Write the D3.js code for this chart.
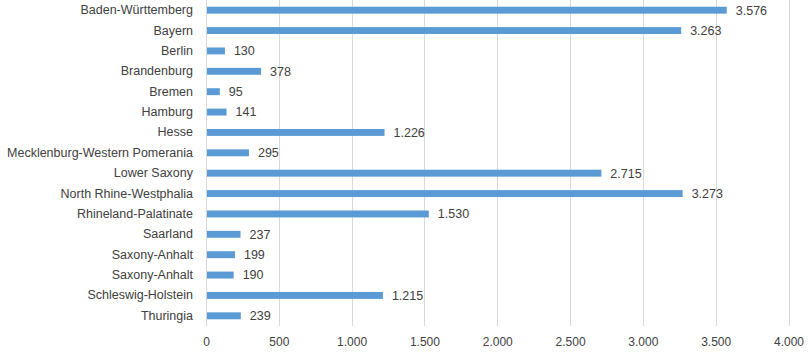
<!DOCTYPE html>
<meta charset="utf-8">
<style>
  body { margin: 0; background: #fff; }
  text { font-family: "Liberation Sans", Arial, sans-serif; fill: #404040; }
</style>
<body>
<script src="https://d3js.org/d3.v7.min.js"></script>
<script>
// categories and values
var states = ["Baden-Württemberg", "Bayern", "Berlin", "Brandenburg", "Bremen", "Hamburg",
  "Hesse", "Mecklenburg-Western Pomerania", "Lower Saxony", "North Rhine-Westphalia",
  "Rhineland-Palatinate", "Saarland", "Saxony-Anhalt", "Saxony-Anhalt", "Schleswig-Holstein", "Thuringia"];
var values = [3576, 3263, 130, 378, 95, 141, 1226, 295, 2715, 3273, 1530, 237, 199, 190, 1215, 239];
var xTicks = [0, 500, 1000, 1500, 2000, 2500, 3000, 3500, 4000];

var width = 812, height = 362;
var margin = {top: 0, right: 24, bottom: 36, left: 206};

var de = d3.formatLocale({decimal: ",", thousands: ".", grouping: [3], currency: ["", "€"]});
var fmt = de.format(",d");

var svg = d3.select("body").append("svg")
    .attr("width", width)
    .attr("height", height);

var x = d3.scaleLinear().domain([0, 4000]).range([margin.left, 788.5]);
var y = d3.scaleBand()
    .domain(d3.range(states.length))
    .range([margin.top, height - margin.bottom])
    .paddingInner(0.66).paddingOuter(0.33);

// gridlines
svg.append("g").selectAll("line")
    .data(xTicks)
  .enter().append("line")
    .attr("x1", function(d) { return Math.round(x(d)) + 0.5; })
    .attr("x2", function(d) { return Math.round(x(d)) + 0.5; })
    .attr("y1", margin.top)
    .attr("y2", height - margin.bottom)
    .attr("stroke", "#d9d9d9")
    .attr("stroke-width", 1);

// bars
svg.append("g").selectAll("rect")
    .data(values)
  .enter().append("rect")
    .attr("x", x(0) + 1)
    .attr("y", function(d, i) { return y(i); })
    .attr("width", function(d) { return x(d) - x(0) - 1; })
    .attr("height", y.bandwidth())
    .attr("fill", "#5b9bd5");

// value labels
svg.append("g").selectAll("text")
    .data(values)
  .enter().append("text")
    .attr("x", function(d) { return x(d) + 9; })
    .attr("y", function(d, i) { return y(i) + y.bandwidth() / 2; })
    .attr("dy", "0.35em")
    .style("font-size", "12.5px")
    .text(function(d) { return fmt(d); });

// category axis
var yAxis = d3.axisLeft(y).tickSize(0).tickPadding(13)
    .tickFormat(function(i) { return states[i]; });
var ya = svg.append("g")
    .attr("transform", "translate(" + margin.left + ",0)")
    .call(yAxis);
ya.select(".domain").remove();
ya.selectAll("text").style("font-size", "12.5px").attr("fill", "#404040");

// value axis
var xAxis = d3.axisBottom(x).tickValues(xTicks).tickSize(0).tickPadding(11)
    .tickFormat(fmt);
var xa = svg.append("g")
    .attr("transform", "translate(0," + (height - margin.bottom) + ")")
    .call(xAxis);
xa.select(".domain").remove();
xa.selectAll("text").style("font-size", "12px").attr("fill", "#404040");
</script>
</body>
